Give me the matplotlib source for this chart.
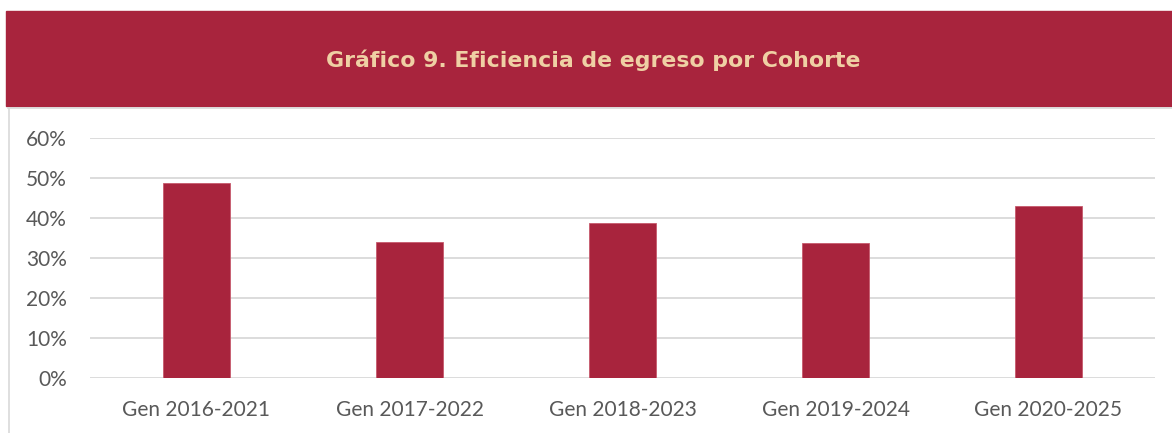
import matplotlib

matplotlib.use("Agg")
import matplotlib.pyplot as plt
from matplotlib.patches import Rectangle
from matplotlib.ticker import PercentFormatter

cohorts = ["Gen 2016-2021", "Gen 2017-2022", "Gen 2018-2023", "Gen 2019-2024", "Gen 2020-2025"]
efficiency = [0.486, 0.339, 0.387, 0.336, 0.429]
y_ticks = [0.0, 0.1, 0.2, 0.3, 0.4, 0.5, 0.6]

title = "Gráfico 9. Eficiencia de egreso por Cohorte"

crimson = "#A8243D"
title_color = "#EFD0A4"
grid_color = "#D9D9D9"
label_color = "#595959"

W, H = 1172, 433
fig = plt.figure(figsize=(W / 100, H / 100), dpi=100)

# header band and the light box round the chart
fig.patches.append(Rectangle((6 / W, 1 - 106 / H), 1 - 6 / W, 95 / H,
                             transform=fig.transFigure, color=crimson, zorder=0))
fig.add_artist(plt.Line2D([8 / W, 1], [1 - 107.5 / H] * 2, transform=fig.transFigure,
                          color=grid_color, lw=1.2))
fig.add_artist(plt.Line2D([8.5 / W] * 2, [0, 1 - 107.5 / H], transform=fig.transFigure,
                          color=grid_color, lw=1.2))
fig.text(593 / W, 1 - 60 / H, title, ha="center", va="center", color=title_color,
         fontsize=15.8, fontweight="bold", family="DejaVu Sans")

ax = fig.add_axes([90 / W, 1 - 377.7 / H, 1065 / W, 240 / H])
x = range(len(cohorts))
ax.bar(x, efficiency, width=0.315, color=crimson, edgecolor="#C65A6C", linewidth=0.6, zorder=3)

ax.set_xlim(-0.5, len(cohorts) - 0.5)
ax.set_ylim(0, 0.6)
ax.set_yticks(y_ticks)
ax.yaxis.set_major_formatter(PercentFormatter(1.0, decimals=0))
ax.set_xticks(list(x))
ax.set_xticklabels(cohorts)
ax.grid(axis="y", color=grid_color, lw=1.3, zorder=0)
ax.set_axisbelow(True)
for side in ax.spines.values():
    side.set_visible(False)
ax.tick_params(length=0, labelsize=15, labelcolor=label_color)
ax.tick_params(axis="y", pad=16.5)
ax.tick_params(axis="x", pad=16)
for lbl in ax.get_xticklabels() + ax.get_yticklabels():
    lbl.set_family(["Lato", "DejaVu Sans"])

fig.savefig("out.png", dpi=100)
